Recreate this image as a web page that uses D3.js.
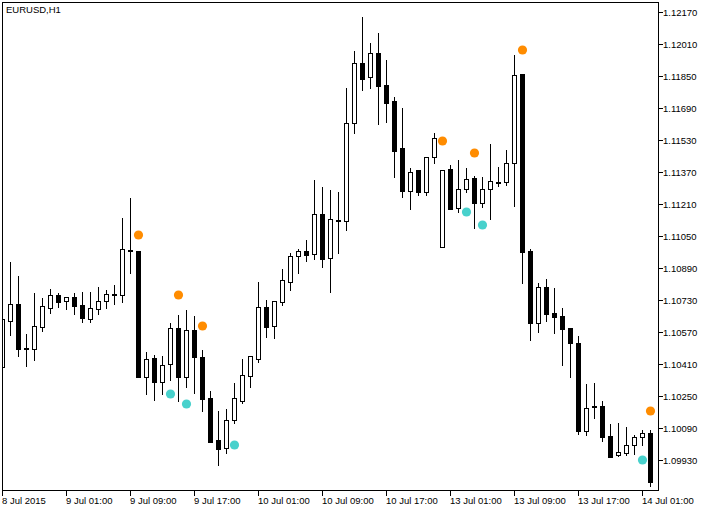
<!DOCTYPE html>
<html>
<head>
<meta charset="utf-8">
<script src="https://cdn.jsdelivr.net/npm/d3@7"></script>
<style>
  body { margin: 0; background: #fff; }
  text { font-family: "Liberation Sans", Arial, sans-serif; font-size: 9.5px; fill: #000; }
</style>
</head>
<body>
<svg id="chart" width="710" height="511"></svg>
<script>
// EURUSD H1, 8 Jul 2015 17:00 .. 14 Jul 2015 02:00 (82 bars)
var opens = [1.10395,1.10625,1.10710,1.10490,1.10485,1.10595,1.10690,1.10755,1.10725,1.10745,
  1.10705,1.10635,1.10685,1.10725,1.10760,1.10755,1.10980,1.10975,1.10345,1.10440,
  1.10320,1.10410,1.10590,1.10345,1.10580,1.10445,1.10240,1.10030,1.09990,1.10130,
  1.10225,1.10350,1.10435,1.10695,1.10600,1.10720,1.10820,1.10950,1.10975,1.10960,
  1.11160,1.10940,1.11130,1.11125,1.11615,1.11915,1.11845,1.11965,1.11805,1.11725,
  1.11490,1.11275,1.11380,1.11270,1.11445,1.10995,1.11385,1.11190,1.11285,1.11340,
  1.11215,1.11285,1.11320,1.11320,1.11415,1.11860,1.10975,1.10615,1.10795,1.10665,
  1.10650,1.10590,1.10515,1.10075,1.10200,1.10200,1.10050,1.09955,1.09965,1.10005,
  1.10045,1.10065];
var highs = [1.10635,1.10925,1.10855,1.10565,1.10770,1.10745,1.10790,1.10770,1.10750,1.10770,
  1.10775,1.10775,1.10800,1.10785,1.10810,1.11145,1.11245,1.10975,1.10475,1.10460,
  1.10455,1.10620,1.10660,1.10685,1.10655,1.10485,1.10280,1.10180,1.10190,1.10320,
  1.10440,1.10455,1.10825,1.10735,1.10730,1.10890,1.10970,1.10990,1.11035,1.11335,
  1.11300,1.11285,1.11275,1.11795,1.11980,1.12150,1.12020,1.12070,1.11935,1.11750,
  1.11695,1.11395,1.11380,1.11450,1.11570,1.11380,1.11410,1.11435,1.11395,1.11355,
  1.11350,1.11515,1.11400,1.11485,1.11960,1.11860,1.10990,1.10820,1.10840,1.10795,
  1.10695,1.10590,1.10555,1.10315,1.10320,1.10230,1.10115,1.10120,1.10100,1.10060,
  1.10085,1.10085];
var lows = [1.10395,1.10555,1.10450,1.10400,1.10430,1.10575,1.10665,1.10695,1.10685,1.10660,
  1.10620,1.10620,1.10660,1.10690,1.10710,1.10720,1.10865,1.10345,1.10260,1.10230,
  1.10260,1.10330,1.10225,1.10295,1.10265,1.10175,1.10020,1.09905,1.09965,1.10115,
  1.10215,1.10295,1.10420,1.10545,1.10540,1.10705,1.10780,1.10865,1.10925,1.10935,
  1.10895,1.10770,1.10965,1.11080,1.11565,1.11780,1.11790,1.11610,1.11620,1.11345,
  1.11245,1.11185,1.11255,1.11255,1.11415,1.10995,1.11185,1.11170,1.11270,1.11090,
  1.11195,1.11135,1.11300,1.11305,1.11200,1.10815,1.10530,1.10570,1.10625,1.10565,
  1.10405,1.10345,1.10060,1.10055,1.10140,1.10025,1.09945,1.09950,1.09955,1.09960,
  1.10005,1.09800];
var closes = [1.10635,1.10710,1.10485,1.10485,1.10600,1.10700,1.10755,1.10720,1.10745,1.10700,
  1.10640,1.10690,1.10725,1.10760,1.10755,1.10985,1.10975,1.10345,1.10435,1.10320,
  1.10405,1.10590,1.10345,1.10580,1.10445,1.10235,1.10020,1.09985,1.10130,1.10240,
  1.10355,1.10450,1.10695,1.10595,1.10725,1.10830,1.10950,1.10975,1.10955,1.11160,
  1.10935,1.11135,1.11125,1.11615,1.11915,1.11835,1.11965,1.11800,1.11715,1.11475,
  1.11275,1.11370,1.11270,1.11445,1.11540,1.11380,1.11185,1.11285,1.11335,1.11215,
  1.11285,1.11325,1.11315,1.11415,1.11855,1.10970,1.10615,1.10795,1.10660,1.10645,
  1.10585,1.10515,1.10075,1.10190,1.10195,1.10045,1.09945,1.09970,1.10005,1.10045,
  1.10065,1.09820];

// indicator dots: bar index and price
var upBars = [17, 22, 25, 55, 59, 65, 81];
var upVals = [1.11055, 1.10755, 1.10600, 1.11525, 1.11465, 1.11980, 1.10175];
var dnBars = [21, 23, 29, 58, 60, 80];
var dnVals = [1.10260, 1.10210, 1.10005, 1.11170, 1.11105, 1.09930];

var priceTicks = [1.09930,1.10090,1.10250,1.10410,1.10570,1.10730,1.10890,1.11050,
  1.11210,1.11370,1.11530,1.11690,1.11850,1.12010,1.12170];
var timeTickBars = [0, 8, 16, 24, 32, 40, 48, 56, 64, 72, 80];
var timeTickLabels = ["8 Jul 2015", "9 Jul 01:00", "9 Jul 09:00", "9 Jul 17:00", "10 Jul 01:00",
  "10 Jul 09:00", "10 Jul 17:00", "13 Jul 01:00", "13 Jul 09:00", "13 Jul 17:00", "14 Jul 01:00"];

var plotL = 2.5, plotR = 658.5, plotT = 2.5, plotB = 490.5;

var svg = d3.select('#chart');

var x = d3.scaleLinear().domain([0, 81]).range([plotL, plotL + 81 * 8]);
var y = d3.scaleLinear().domain([1.0978, 1.1223]).range([490, 0]);

var bars = opens.map(function (o, i) {
  return { i: i, o: o, h: highs[i], l: lows[i], c: closes[i] };
});

svg.append('defs').append('clipPath').attr('id', 'plot')
  .append('rect').attr('x', plotL).attr('y', plotT)
  .attr('width', plotR - plotL).attr('height', plotB - plotT);

var g = svg.append('g').attr('clip-path', 'url(#plot)')
  .attr('shape-rendering', 'crispEdges');

// wicks
g.selectAll('.wick').data(bars).enter().append('line')
  .attr('class', 'wick')
  .attr('x1', function (d) { return x(d.i); })
  .attr('x2', function (d) { return x(d.i); })
  .attr('y1', function (d) { return Math.round(y(d.h)) + 0.5; })
  .attr('y2', function (d) { return Math.round(y(d.l)) + 0.5; })
  .attr('stroke', '#000').attr('stroke-width', 1);

// bodies
g.selectAll('.body').data(bars).enter().append('rect')
  .attr('class', 'body')
  .attr('x', function (d) { return x(d.i) - 2; })
  .attr('width', 4)
  .attr('y', function (d) { return Math.round(y(Math.max(d.o, d.c))) + 0.5; })
  .attr('height', function (d) {
    return Math.max(1, Math.round(y(Math.min(d.o, d.c))) - Math.round(y(Math.max(d.o, d.c))));
  })
  .attr('fill', function (d) { return d.c < d.o ? '#000' : '#fff'; })
  .attr('stroke', '#000').attr('stroke-width', 1);

// dots
var dots = svg.append('g');
dots.selectAll('.up').data(upBars).enter().append('circle')
  .attr('cx', function (d) { return x(d); })
  .attr('cy', function (d, i) { return y(upVals[i]); })
  .attr('r', 4.6).attr('fill', '#ff8c00');
dots.selectAll('.dn').data(dnBars).enter().append('circle')
  .attr('cx', function (d) { return x(d); })
  .attr('cy', function (d, i) { return y(dnVals[i]); })
  .attr('r', 4.6).attr('fill', '#48d1cc');

// frame
svg.append('path')
  .attr('d', 'M' + plotL + ',' + plotB + 'V' + plotT + 'H' + plotR + 'V' + plotB + 'H' + plotL)
  .attr('fill', 'none').attr('stroke', '#000').attr('stroke-width', 1)
  .attr('shape-rendering', 'crispEdges');

// price axis
var pa = svg.append('g').attr('shape-rendering', 'crispEdges');
pa.selectAll('line').data(priceTicks).enter().append('line')
  .attr('x1', plotR).attr('x2', plotR + 4)
  .attr('y1', function (d) { return Math.round(y(d)) + 0.5; })
  .attr('y2', function (d) { return Math.round(y(d)) + 0.5; })
  .attr('stroke', '#000');
svg.append('g').selectAll('text').data(priceTicks).enter().append('text')
  .attr('x', 663)
  .attr('y', function (d) { return y(d) + 3.5; })
  .text(function (d) { return d.toFixed(5); });

// time axis
var ta = svg.append('g').attr('shape-rendering', 'crispEdges');
ta.selectAll('line').data(timeTickBars).enter().append('line')
  .attr('x1', function (d) { return x(d); })
  .attr('x2', function (d) { return x(d); })
  .attr('y1', plotB).attr('y2', plotB + 5)
  .attr('stroke', '#000');
svg.append('g').selectAll('text').data(timeTickBars).enter().append('text')
  .attr('x', function (d) { return x(d) - 0.5; })
  .attr('y', 504)
  .text(function (d, i) { return timeTickLabels[i]; });

// title
svg.append('text').attr('x', 6).attr('y', 13).text('EURUSD,H1');
</script>
</body>
</html>
